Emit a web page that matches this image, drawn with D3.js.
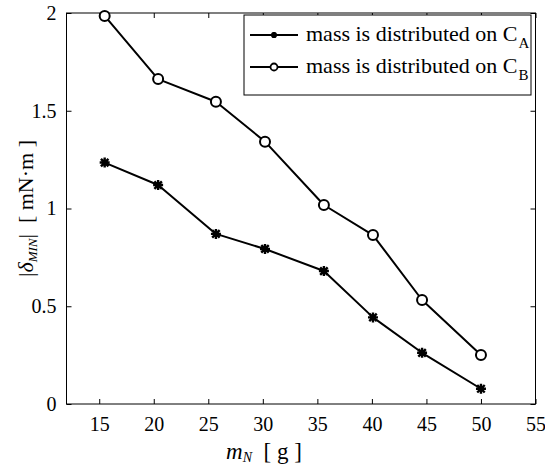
<!DOCTYPE html>
<html>
<head>
<meta charset="utf-8">
<script src="https://cdn.jsdelivr.net/npm/d3@7/dist/d3.min.js"></script>
<style>
  html, body { margin: 0; padding: 0; background: #fff; }
  svg { display: block; }
  svg text { font-family: "Times New Roman", "Liberation Serif", Tinos, "DejaVu Serif", serif; }
</style>
</head>
<body>
<svg id="chart" width="545" height="468"></svg>
<script>
// ---- data ----
const massN = [15.5, 20.4, 25.7, 30.2, 35.6, 40.1, 44.6, 50.0];
const deltaA = [1.235, 1.12, 0.87, 0.793, 0.68, 0.443, 0.262, 0.078];
const deltaB = [1.985, 1.662, 1.546, 1.342, 1.018, 0.864, 0.532, 0.251];
const xTicks = [15, 20, 25, 30, 35, 40, 45, 50, 55];
const yTicks = [0, 0.5, 1, 1.5, 2];
const xDomain = [12, 55];
const yDomain = [0, 2];
const legendLabels = ["mass is distributed on C", "mass is distributed on C"];
const legendSubs = ["A", "B"];

// ---- layout ----
const FONT = '"Times New Roman", "Liberation Serif", Tinos, "DejaVu Serif", serif';
const L = 66.5, R = 535.5, T = 13, B = 404;
const svg = d3.select("#chart");
const x = d3.scaleLinear().domain(xDomain).range([L, R]);
const y = d3.scaleLinear().domain(yDomain).range([B, T]);

// frame
svg.append("rect").attr("x", L).attr("y", T).attr("width", R - L).attr("height", B - T)
  .attr("fill", "none").attr("stroke", "#000").attr("stroke-width", 1);

// axes (inside ticks) bottom/top/left/right
const fmt = d => d3.format("~g")(d);
const gBottom = svg.append("g").attr("transform", `translate(0,${B})`)
  .call(d3.axisBottom(x).tickValues(xTicks).tickSizeInner(-5).tickSizeOuter(0).tickPadding(13).tickFormat(fmt));
const gTop = svg.append("g").attr("transform", `translate(0,${T})`)
  .call(d3.axisTop(x).tickValues(xTicks).tickSizeInner(-5).tickSizeOuter(0).tickFormat(""));
const gLeft = svg.append("g").attr("transform", `translate(${L},0)`)
  .call(d3.axisLeft(y).tickValues(yTicks).tickSizeInner(-5).tickSizeOuter(0).tickPadding(10).tickFormat(fmt));
const gRight = svg.append("g").attr("transform", `translate(${R},0)`)
  .call(d3.axisRight(y).tickValues(yTicks).tickSizeInner(-5).tickSizeOuter(0).tickFormat(""));
[gBottom, gTop, gLeft, gRight].forEach(g => {
  g.attr("font-family", FONT).attr("font-size", 20);
  g.select(".domain").remove();
  g.selectAll("line").attr("stroke", "#000").attr("stroke-width", 1);
  g.selectAll("text").attr("fill", "#000");
});

// lines
const lineGen = d3.line().x((d, i) => x(massN[i])).y(d => y(d));
svg.append("path").datum(deltaA).attr("d", lineGen).attr("fill", "none")
  .attr("stroke", "#000").attr("stroke-width", 2).attr("stroke-linejoin", "round");
svg.append("path").datum(deltaB).attr("d", lineGen).attr("fill", "none")
  .attr("stroke", "#000").attr("stroke-width", 2).attr("stroke-linejoin", "round");

// markers
function star(g, cx, cy, s, w) {
  const p = `M${cx - s},${cy}L${cx + s},${cy}M${cx},${cy - s}L${cx},${cy + s}` +
    `M${cx - s * 0.75},${cy - s * 0.75}L${cx + s * 0.75},${cy + s * 0.75}` +
    `M${cx - s * 0.75},${cy + s * 0.75}L${cx + s * 0.75},${cy - s * 0.75}`;
  g.append("path").attr("d", p).attr("stroke", "#000").attr("stroke-width", w).attr("fill", "none");
}
const gA = svg.append("g");
deltaA.forEach((d, i) => star(gA, x(massN[i]), y(d), 5, 2.4));
svg.append("g").selectAll("circle").data(deltaB).join("circle")
  .attr("cx", (d, i) => x(massN[i])).attr("cy", d => y(d)).attr("r", 5)
  .attr("fill", "#fff").attr("stroke", "#000").attr("stroke-width", 2);

// legend
const lg = svg.append("g");
lg.append("rect").attr("x", 244).attr("y", 15).attr("width", 531 - 244).attr("height", 95 - 15)
  .attr("fill", "#fff").attr("stroke", "#000").attr("stroke-width", 1);
const rows = [35, 67];
legendLabels.forEach((lab, i) => {
  const ly = rows[i];
  lg.append("line").attr("x1", 250).attr("x2", 298).attr("y1", ly).attr("y2", ly)
    .attr("stroke", "#000").attr("stroke-width", 2);
  if (i === 0) star(lg, 274, ly, 3, 2);
  else lg.append("circle").attr("cx", 274).attr("cy", ly).attr("r", 3.5)
    .attr("fill", "#fff").attr("stroke", "#000").attr("stroke-width", 1.8);
  const t = lg.append("text").attr("x", 306).attr("y", ly + 6).attr("font-size", 22).attr("fill", "#000");
  t.append("tspan").text(lab);
  t.append("tspan").attr("dx", 1).attr("dy", 7).attr("font-size", 15).text(legendSubs[i]);
});

// x label
const xl = svg.append("text").attr("x", 264).attr("y", 459).attr("text-anchor", "middle")
  .attr("font-size", 23).attr("fill", "#000").attr("xml:space", "preserve");
xl.append("tspan").attr("font-style", "italic").text("m");
xl.append("tspan").attr("font-style", "italic").attr("font-size", 14).attr("dy", 3).text("N");
xl.append("tspan").attr("dy", -3).text("  [ g ]");

// y label
const yl = svg.append("text").attr("transform", `translate(33,${(T + B) / 2}) rotate(-90)`)
  .attr("text-anchor", "middle").attr("font-size", 22).attr("fill", "#000").attr("xml:space", "preserve");
yl.append("tspan").text("|");
yl.append("tspan").attr("font-style", "italic").text("δ");
yl.append("tspan").attr("font-style", "italic").attr("font-size", 13).attr("dy", 4).text("MIN");
yl.append("tspan").attr("dy", -4).text("|  [ mN·m ]");
</script>
</body>
</html>
